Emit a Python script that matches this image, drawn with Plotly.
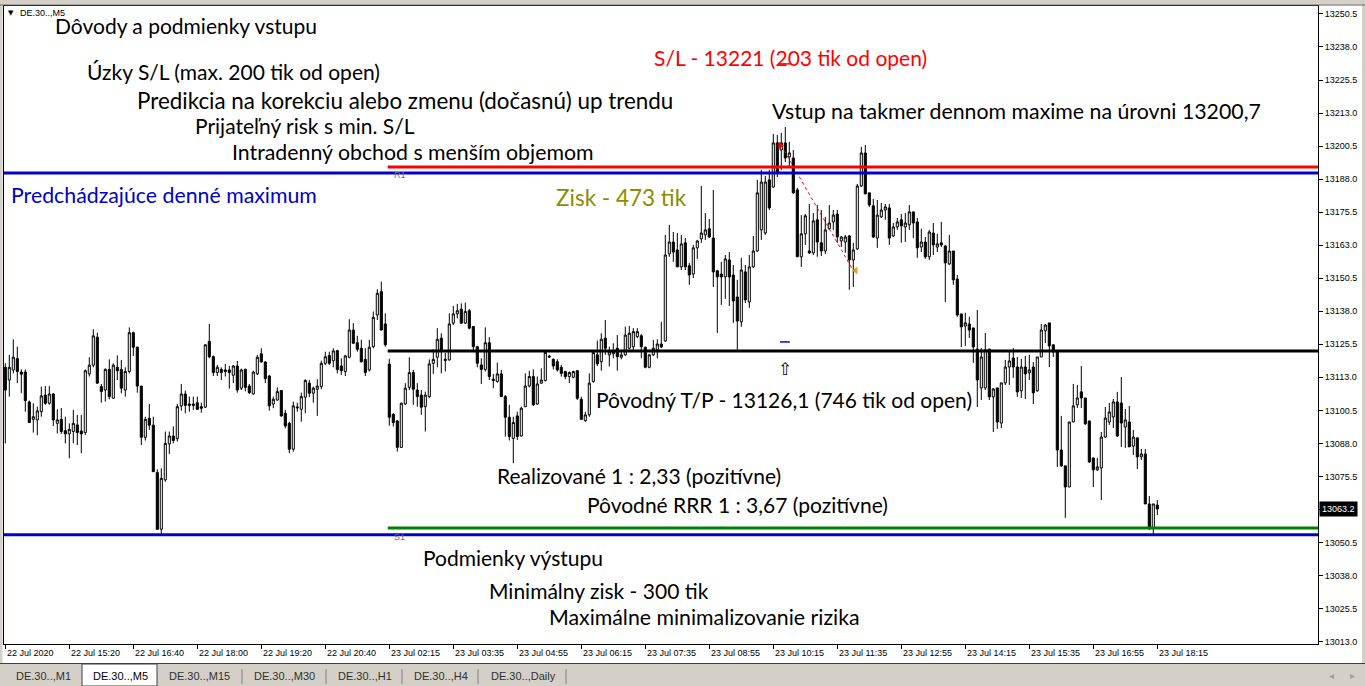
import plotly.graph_objects as go

# DE.30 (DAX) M5 bars, 22 Jul 2020 14:00 -> 23 Jul 2020 18:15 (overnight gap skipped)
opens = [
    13116.8, 13112.0, 13115.8, 13120.1, 13115.0, 13115.0, 13103.7, 13097.1, 13096.9, 13100.0, 13106.3, 13103.2,
    13106.7, 13095.6, 13097.1, 13092.8, 13091.6, 13092.5, 13095.0, 13092.7, 13092.1, 13114.3, 13117.6, 13128.2,
    13109.5, 13108.2, 13116.0, 13105.1, 13116.8, 13116.0, 13108.2, 13115.2, 13129.9, 13124.4, 13109.7, 13090.3,
    13097.5, 13094.9, 13077.0, 13055.5, 13074.2, 13087.8, 13090.8, 13089.8, 13102.2, 13106.7, 13102.3, 13102.9,
    13103.4, 13101.9, 13101.7, 13126.6, 13120.8, 13114.8, 13116.0, 13115.8, 13115.8, 13113.8, 13117.3, 13108.9,
    13116.0, 13109.7, 13106.7, 13114.3, 13121.9, 13118.8, 13113.5, 13102.9, 13104.4, 13108.0, 13099.4, 13095.6,
    13085.8, 13101.4, 13100.9, 13105.5, 13110.8, 13107.0, 13108.5, 13109.5, 13118.3, 13121.3, 13119.3, 13123.1,
    13117.3, 13115.2, 13120.6, 13130.9, 13126.1, 13124.0, 13119.8, 13115.8, 13124.6, 13136.6, 13145.4, 13133.2,
    13118.0, 13099.0, 13096.5, 13086.5, 13102.9, 13109.2, 13114.8, 13108.2, 13106.3, 13101.9, 13105.7, 13118.3,
    13120.6, 13127.8, 13119.3, 13119.6, 13133.5, 13137.0, 13138.8, 13133.5, 13138.2, 13132.2, 13124.6, 13117.7,
    13116.0, 13126.1, 13112.3, 13111.4, 13114.3, 13105.7, 13097.9, 13089.9, 13098.4, 13090.8, 13101.9, 13109.7,
    13113.3, 13102.9, 13110.8, 13111.8, 13120.6, 13119.8, 13118.9, 13116.8, 13115.2, 13113.3, 13113.0, 13115.5,
    13104.7, 13096.6, 13098.8, 13111.4, 13121.5, 13118.9, 13127.8, 13121.5, 13121.9, 13124.0, 13120.6, 13121.5,
    13124.0, 13124.6, 13128.4, 13128.7, 13124.4, 13116.8, 13121.5, 13123.4, 13125.6, 13126.8, 13159.7, 13164.2,
    13161.2, 13154.8, 13163.9, 13155.2, 13152.1, 13162.0, 13165.4, 13166.9, 13169.2, 13165.7, 13153.3, 13152.1,
    13151.0, 13157.4, 13151.7, 13143.4, 13134.0, 13152.9, 13141.5, 13154.8, 13160.8, 13168.8, 13167.6, 13187.7,
    13185.0, 13201.7, 13199.0, 13201.7, 13196.4, 13196.0, 13183.9, 13158.6, 13167.3, 13160.8, 13160.1, 13172.6,
    13163.9, 13160.8, 13169.2, 13171.8, 13174.8, 13164.6, 13164.2, 13166.5, 13157.4, 13161.6, 13185.4, 13197.9,
    13182.8, 13177.9, 13165.7, 13173.7, 13176.3, 13177.1, 13166.5, 13169.9, 13172.6, 13169.9, 13170.7, 13175.6,
    13171.8, 13162.3, 13164.2, 13158.6, 13167.6, 13162.3, 13163.9, 13162.7, 13155.9, 13160.8, 13150.2, 13137.0,
    13132.4, 13133.2, 13131.7, 13123.7, 13109.0, 13109.0, 13123.7, 13105.6, 13109.0, 13095.7, 13110.9, 13116.9,
    13120.3, 13116.9, 13107.9, 13116.9, 13114.7, 13116.9, 13107.9, 13120.7, 13130.6, 13133.6, 13125.3, 13123.0,
    13085.5, 13079.5, 13071.5, 13096.1, 13102.6, 13107.5, 13105.2, 13096.5, 13082.5, 13078.0, 13078.7, 13090.4,
    13096.1, 13098.0, 13103.7, 13103.3, 13094.2, 13096.1, 13087.0, 13090.1, 13082.9, 13084.0, 13065.1, 13056.0,
    13064.7,
]
highs = [
    13118.3, 13121.5, 13127.4, 13124.6, 13116.0, 13116.0, 13104.2, 13103.2, 13101.9, 13109.5, 13109.7, 13109.7,
    13107.0, 13100.9, 13101.4, 13098.1, 13095.6, 13100.7, 13098.8, 13098.8, 13116.0, 13120.6, 13131.2, 13129.9,
    13110.5, 13116.4, 13119.8, 13118.3, 13121.3, 13119.6, 13116.8, 13131.9, 13130.3, 13124.6, 13109.7, 13098.1,
    13102.9, 13098.1, 13078.2, 13078.6, 13092.5, 13092.5, 13094.4, 13102.9, 13110.5, 13108.0, 13105.7, 13105.7,
    13105.7, 13103.4, 13125.6, 13133.2, 13121.3, 13117.7, 13116.8, 13118.1, 13117.3, 13117.7, 13119.2, 13116.3,
    13116.3, 13110.5, 13115.5, 13121.5, 13124.0, 13119.1, 13113.9, 13105.7, 13109.2, 13108.2, 13100.7, 13096.2,
    13103.8, 13103.4, 13107.2, 13112.3, 13112.0, 13109.5, 13112.3, 13119.3, 13122.7, 13122.7, 13124.0, 13123.4,
    13120.2, 13121.5, 13135.0, 13133.5, 13128.7, 13127.2, 13124.0, 13127.2, 13137.9, 13146.3, 13149.2, 13137.2,
    13120.0, 13099.4, 13096.9, 13103.4, 13110.8, 13120.6, 13115.8, 13110.8, 13108.2, 13107.6, 13119.8, 13123.6,
    13131.6, 13129.7, 13122.3, 13137.2, 13140.0, 13140.8, 13141.0, 13141.3, 13138.8, 13132.4, 13124.9, 13120.2,
    13131.9, 13128.2, 13114.3, 13118.6, 13115.8, 13106.3, 13102.6, 13098.1, 13100.0, 13101.9, 13114.5, 13115.5,
    13116.0, 13113.3, 13116.4, 13123.1, 13121.5, 13120.2, 13119.8, 13117.7, 13115.5, 13115.2, 13115.5, 13115.8,
    13105.7, 13100.0, 13114.5, 13123.4, 13126.9, 13129.7, 13134.7, 13124.6, 13125.9, 13129.0, 13123.4, 13132.2,
    13132.4, 13131.6, 13131.6, 13129.4, 13124.6, 13121.9, 13127.2, 13127.4, 13134.0, 13166.9, 13170.7, 13168.0,
    13167.6, 13166.9, 13165.7, 13156.3, 13163.1, 13165.0, 13185.4, 13175.2, 13172.9, 13183.9, 13153.6, 13156.7,
    13159.3, 13160.4, 13155.5, 13149.9, 13158.2, 13155.5, 13159.3, 13166.5, 13187.7, 13191.5, 13189.2, 13191.5,
    13205.1, 13204.7, 13205.5, 13207.7, 13202.1, 13199.0, 13184.7, 13174.4, 13174.8, 13178.6, 13175.2, 13178.2,
    13176.3, 13173.7, 13178.2, 13176.3, 13176.3, 13166.5, 13166.9, 13166.9, 13163.9, 13186.2, 13200.2, 13200.9,
    13182.8, 13180.5, 13180.1, 13179.0, 13178.6, 13178.6, 13171.4, 13173.3, 13174.8, 13175.2, 13178.2, 13175.6,
    13173.3, 13169.2, 13166.1, 13168.8, 13171.4, 13167.3, 13171.8, 13163.1, 13166.9, 13160.8, 13151.7, 13137.0,
    13137.4, 13135.9, 13131.7, 13138.5, 13124.1, 13129.8, 13123.7, 13109.0, 13109.0, 13110.9, 13119.6, 13122.6,
    13124.1, 13120.7, 13120.0, 13121.1, 13121.5, 13118.8, 13120.7, 13133.2, 13133.2, 13133.6, 13125.3, 13123.0,
    13098.4, 13079.5, 13096.1, 13110.5, 13110.1, 13117.3, 13105.2, 13096.5, 13082.5, 13082.5, 13092.3, 13101.8,
    13103.3, 13104.8, 13107.5, 13113.1, 13101.0, 13102.2, 13093.1, 13090.1, 13085.9, 13085.9, 13068.1, 13065.1,
    13066.6,
]
lows = [
    13088.0, 13105.7, 13114.5, 13110.8, 13107.0, 13100.0, 13095.9, 13092.1, 13091.1, 13098.1, 13102.6, 13102.6,
    13094.6, 13091.8, 13091.6, 13088.0, 13082.4, 13088.0, 13087.4, 13084.3, 13091.2, 13113.3, 13116.8, 13110.5,
    13103.4, 13103.8, 13104.7, 13104.9, 13112.0, 13107.0, 13105.7, 13114.5, 13121.1, 13107.2, 13087.4, 13089.1,
    13093.1, 13077.3, 13055.3, 13053.4, 13073.5, 13084.0, 13088.0, 13088.7, 13100.4, 13099.4, 13100.0, 13100.7,
    13100.7, 13099.6, 13101.4, 13120.2, 13113.5, 13113.5, 13112.0, 13113.3, 13108.7, 13110.8, 13107.2, 13108.2,
    13107.7, 13106.7, 13106.5, 13113.9, 13118.6, 13110.8, 13100.4, 13101.3, 13104.2, 13098.1, 13093.7, 13084.3,
    13084.9, 13100.0, 13096.2, 13099.4, 13105.5, 13103.4, 13098.4, 13108.5, 13117.7, 13117.7, 13116.8, 13114.5,
    13113.9, 13113.5, 13120.2, 13125.6, 13122.7, 13118.6, 13113.5, 13115.2, 13124.0, 13134.7, 13130.7, 13124.6,
    13094.7, 13094.4, 13084.9, 13086.3, 13102.6, 13108.2, 13102.6, 13101.9, 13098.8, 13092.5, 13105.1, 13114.3,
    13116.8, 13114.5, 13115.2, 13119.3, 13132.8, 13135.3, 13133.2, 13133.2, 13131.2, 13123.4, 13116.8, 13110.5,
    13115.2, 13112.0, 13108.9, 13111.0, 13105.5, 13090.6, 13089.1, 13080.5, 13089.3, 13090.6, 13101.7, 13109.2,
    13102.2, 13102.6, 13110.5, 13111.4, 13120.5, 13116.0, 13115.2, 13113.3, 13112.3, 13110.8, 13112.6, 13104.4,
    13096.9, 13096.2, 13098.1, 13111.0, 13117.3, 13115.5, 13121.5, 13117.1, 13120.2, 13115.5, 13119.8, 13121.1,
    13123.4, 13122.7, 13127.8, 13120.2, 13116.4, 13116.4, 13121.1, 13120.2, 13124.1, 13126.4, 13158.6, 13156.7,
    13154.8, 13153.6, 13153.6, 13148.0, 13150.6, 13157.8, 13163.9, 13165.0, 13165.7, 13147.2, 13129.8, 13140.4,
    13142.7, 13140.0, 13133.6, 13123.4, 13132.1, 13141.1, 13139.3, 13154.4, 13160.4, 13165.0, 13166.9, 13176.3,
    13184.7, 13188.8, 13191.5, 13194.5, 13192.6, 13182.4, 13158.6, 13154.8, 13163.1, 13159.7, 13159.3, 13158.6,
    13158.9, 13159.7, 13168.8, 13168.8, 13163.9, 13162.3, 13160.1, 13146.1, 13147.2, 13161.2, 13185.0, 13182.4,
    13177.5, 13165.7, 13162.0, 13173.3, 13172.6, 13163.1, 13166.1, 13168.8, 13163.9, 13164.2, 13168.8, 13165.7,
    13158.2, 13160.4, 13157.8, 13157.4, 13159.3, 13160.4, 13162.3, 13141.5, 13155.5, 13148.0, 13135.9, 13124.5,
    13124.9, 13127.9, 13118.4, 13101.8, 13104.4, 13108.2, 13104.4, 13092.3, 13093.5, 13093.8, 13110.1, 13110.1,
    13112.8, 13105.6, 13105.2, 13104.8, 13112.0, 13102.9, 13107.5, 13120.7, 13126.0, 13116.9, 13120.7, 13079.1,
    13079.1, 13059.8, 13071.5, 13096.1, 13101.4, 13101.4, 13095.0, 13080.6, 13071.5, 13077.6, 13066.6, 13090.1,
    13095.0, 13093.8, 13090.4, 13086.7, 13086.3, 13086.7, 13083.6, 13078.3, 13081.7, 13065.1, 13055.2, 13053.4,
    13060.9,
]
closes = [
    13108.2, 13116.8, 13120.6, 13115.2, 13114.2, 13104.2, 13095.9, 13098.1, 13100.3, 13106.0, 13103.2, 13106.7,
    13096.9, 13096.9, 13092.5, 13091.6, 13093.3, 13095.6, 13092.1, 13091.6, 13115.5, 13117.6, 13128.7, 13110.8,
    13107.6, 13116.0, 13105.7, 13117.6, 13115.5, 13108.9, 13115.2, 13129.9, 13124.4, 13109.7, 13090.3, 13097.1,
    13094.9, 13077.3, 13055.5, 13074.8, 13088.0, 13090.8, 13089.1, 13101.9, 13106.7, 13102.4, 13102.9, 13102.4,
    13100.9, 13101.3, 13125.3, 13120.8, 13114.8, 13116.8, 13114.8, 13115.2, 13114.8, 13117.3, 13108.2, 13115.8,
    13109.2, 13107.2, 13115.0, 13120.6, 13118.8, 13112.5, 13102.2, 13104.7, 13107.6, 13098.4, 13094.6, 13085.8,
    13102.2, 13101.7, 13105.7, 13111.8, 13107.0, 13108.9, 13109.7, 13118.3, 13120.8, 13118.3, 13123.0, 13116.0,
    13115.5, 13121.1, 13130.9, 13125.9, 13123.6, 13118.9, 13114.8, 13124.4, 13135.7, 13144.8, 13130.9, 13125.3,
    13097.9, 13095.9, 13086.5, 13103.2, 13108.9, 13114.8, 13108.5, 13105.7, 13101.7, 13106.3, 13118.1, 13119.8,
    13127.4, 13123.4, 13119.8, 13133.2, 13137.0, 13138.2, 13133.5, 13137.9, 13131.6, 13124.6, 13118.3, 13116.0,
    13126.1, 13113.3, 13111.8, 13114.3, 13105.7, 13097.9, 13090.6, 13095.9, 13090.6, 13101.3, 13109.7, 13113.3,
    13102.6, 13110.5, 13112.0, 13122.4, 13121.0, 13117.3, 13115.8, 13114.5, 13113.3, 13114.8, 13115.2, 13105.1,
    13097.1, 13098.8, 13110.8, 13122.4, 13118.1, 13127.4, 13124.0, 13122.7, 13122.7, 13120.8, 13121.5, 13129.0,
    13129.7, 13130.3, 13130.3, 13124.6, 13116.8, 13121.5, 13124.0, 13125.6, 13124.5, 13159.3, 13164.2, 13160.4,
    13154.8, 13163.5, 13154.8, 13151.7, 13162.0, 13164.6, 13167.6, 13168.8, 13166.1, 13152.9, 13151.0, 13151.0,
    13157.8, 13151.0, 13141.9, 13134.3, 13153.6, 13142.3, 13154.8, 13160.8, 13182.8, 13186.9, 13186.9, 13177.1,
    13201.7, 13190.3, 13201.7, 13196.0, 13197.9, 13182.8, 13158.6, 13167.3, 13174.1, 13160.1, 13172.2, 13164.2,
    13160.8, 13168.8, 13171.4, 13174.4, 13166.1, 13166.1, 13166.1, 13157.4, 13161.2, 13185.4, 13197.9, 13182.4,
    13178.2, 13166.1, 13174.4, 13176.3, 13177.5, 13165.7, 13169.9, 13171.8, 13170.3, 13171.4, 13175.6, 13171.4,
    13162.0, 13164.2, 13158.6, 13168.0, 13163.1, 13163.5, 13163.1, 13156.3, 13160.8, 13149.9, 13136.6, 13132.1,
    13133.6, 13130.9, 13124.5, 13112.0, 13120.7, 13123.4, 13105.6, 13108.6, 13096.1, 13110.9, 13116.9, 13119.2,
    13116.9, 13107.5, 13116.9, 13114.3, 13115.8, 13107.1, 13120.7, 13130.9, 13132.8, 13124.9, 13122.6, 13085.5,
    13079.5, 13071.5, 13096.1, 13102.2, 13105.2, 13105.2, 13095.4, 13081.0, 13078.0, 13079.1, 13090.4, 13097.6,
    13099.9, 13103.7, 13090.8, 13095.7, 13096.9, 13086.7, 13090.4, 13082.9, 13084.0, 13065.1, 13056.0, 13065.1,
    13063.2,
]
bars = list(range(len(closes)))

time_tick_bars = [0, 16, 32, 48, 64, 80, 96, 112, 128, 144, 160, 176, 192, 208, 224, 240, 256, 272, 288]
time_tick_text = ["22 Jul 2020", "22 Jul 15:20", "22 Jul 16:40", "22 Jul 18:00", "22 Jul 19:20",
                  "22 Jul 20:40", "23 Jul 02:15", "23 Jul 03:35", "23 Jul 04:55", "23 Jul 06:15",
                  "23 Jul 07:35", "23 Jul 08:55", "23 Jul 10:15", "23 Jul 11:35", "23 Jul 12:55",
                  "23 Jul 14:15", "23 Jul 15:35", "23 Jul 16:55", "23 Jul 18:15"]
price_ticks = [13013.0, 13025.5, 13038.0, 13050.5, 13063.0, 13075.5, 13088.0, 13100.5, 13113.0, 13125.5,
               13138.0, 13150.5, 13163.0, 13175.5, 13188.0, 13200.5, 13213.0, 13225.5, 13238.0, 13250.5]

# levels / trade
prev_day_high = 13190.3
stop_loss_line = 13192.6
take_profit_line = 13123.0
exit_zone_line = 13056.0
support_s1 = 13053.4
day2_start = 95.6
entry_bar, entry_price = 194, 13200.7
exit_bar, exit_price = 212, 13153.4
sl_mark_price, tp_mark_price, arrow_price = 13231.6, 13126.4, 13116.2
last_price = 13063.2

tabs = ["DE.30..,M1", "DE.30..,M5", "DE.30..,M15", "DE.30..,M30", "DE.30..,H1", "DE.30..,H4", "DE.30..,Daily"]

W, H = 1365, 686
PL, PR, PT, PB = 4, 1318, 6, 644
X0 = -0.325
X1 = X0 + (PR - PL) / 4.0


def px(x):  # pixel -> paper
    return (x - PL) / (PR - PL)


def py(y):
    return (PB - y) / (PB - PT)


fig = go.Figure()
fig.add_trace(go.Candlestick(
    x=bars, open=opens, high=highs, low=lows, close=closes,
    increasing=dict(line=dict(color="black", width=1), fillcolor="white"),
    decreasing=dict(line=dict(color="black", width=1), fillcolor="black"),
    whiskerwidth=0, hoverinfo="skip", showlegend=False,
))

# trade line open -> close
fig.add_trace(go.Scatter(x=[entry_bar, exit_bar], y=[entry_price, exit_price], mode="lines",
                         line=dict(color="red", width=1, dash="dot"), hoverinfo="skip", showlegend=False))
fig.add_trace(go.Scatter(x=[entry_bar - 0.3], y=[entry_price], mode="markers",
                         marker=dict(symbol="triangle-right", size=7, color="red"),
                         hoverinfo="skip", showlegend=False))
fig.add_trace(go.Scatter(x=[exit_bar + 0.6], y=[exit_price], mode="markers",
                         marker=dict(symbol="triangle-left", size=7, color="#e0a020"),
                         hoverinfo="skip", showlegend=False))
fig.add_trace(go.Scatter(x=[194.9, 194.9], y=[sl_mark_price, tp_mark_price], mode="markers",
                         marker=dict(symbol="line-ew", size=7, line=dict(color=["red", "blue"], width=1.5)),
                         hoverinfo="skip", showlegend=False))

shapes = []
for y0, x_from, col in [(prev_day_high, X0, "#0000cc"), (stop_loss_line, day2_start, "#ff0000"),
                        (take_profit_line, day2_start, "black"), (exit_zone_line, day2_start, "#008000"),
                        (support_s1, X0, "#0000cc")]:
    shapes.append(dict(type="line", xref="x", yref="y", x0=x_from, x1=X1, y0=y0, y1=y0,
                       line=dict(color=col, width=3)))

# window chrome (gray frame, tab strip)
gray = "#d4d0c8"
shapes += [
    dict(type="rect", xref="paper", yref="paper", x0=px(0), x1=px(W), y0=py(0), y1=py(4.5),
         fillcolor=gray, line_width=0, layer="below"),
    dict(type="rect", xref="paper", yref="paper", x0=px(0), x1=px(2.5), y0=py(0), y1=py(H),
         fillcolor=gray, line_width=0),
    dict(type="rect", xref="paper", yref="paper", x0=px(1362), x1=px(W), y0=py(0), y1=py(H),
         fillcolor=gray, line_width=0),
    dict(type="line", xref="paper", yref="paper", x0=px(0), x1=px(W), y0=py(5), y1=py(5),
         line=dict(color="#606060", width=1)),
    dict(type="rect", xref="paper", yref="paper", x0=px(0), x1=px(W), y0=py(664), y1=py(H),
         fillcolor=gray, line_width=0),
    dict(type="line", xref="paper", yref="paper", x0=px(0), x1=px(W), y0=py(663.5), y1=py(663.5),
         line=dict(color="#404040", width=1)),
    dict(type="rect", xref="paper", yref="paper", x0=px(82), x1=px(157), y0=py(664), y1=py(H),
         fillcolor="white", line=dict(color="#404040", width=1)),
]
for sx in [242, 326, 402, 478, 566]:
    shapes.append(dict(type="line", xref="paper", yref="paper", x0=px(sx), x1=px(sx), y0=py(669), y1=py(684),
                       line=dict(color="#808080", width=1)))

ann = []
big = dict(family="Lato, 'Noto Sans', sans-serif", size=21, color="black")


def note(text, bar, price, color="black", size=21):
    ann.append(dict(text=text, x=bar, y=price, xref="x", yref="y", xanchor="left", yanchor="middle",
                    xshift=-3, showarrow=False, font=dict(big, color=color, size=size)))


note("Dôvody a podmienky vstupu", 12.7, 13246.3)
note("Úzky S/L (max. 200 tik od open)", 20.7, 13228.9)
note("Predikcia na korekciu alebo zmenu (dočasnú) up trendu", 33.2, 13217.6, size=22.4)
note("Prijateľný risk s min. S/L", 47.7, 13208.1)
note("Intradenný obchod s menším objemom", 56.9, 13198.3, size=21.3)
note("Predchádzajúce denné maximum", 1.7, 13182.0, "#0000cc", size=21.3)
note("Zisk - 473 tik", 137.9, 13180.9, "#8c8c00", size=22.5)
note("S/L - 13221 (203 tik od open)", 162.4, 13233.9, "#ff0000")
note("Vstup na takmer dennom maxime na úrovni 13200,7", 191.9, 13213.8, size=21.3)
note("Pôvodný T/P - 13126,1 (746 tik od open)", 147.9, 13104.8)
note("Realizované 1 : 2,33 (pozitívne)", 123.2, 13075.7)
note("Pôvodné RRR 1 : 3,67 (pozitívne)", 145.7, 13064.7)
note("Podmienky výstupu", 104.7, 13045.0)
note("Minimálny zisk - 300 tik", 121.2, 13032.2)
note("Maximálne minimalizovanie rizika", 136.2, 13022.3, size=21.3)

small = dict(family="Liberation Sans, Arial, sans-serif", size=9, color="#6a6a9a")
ann.append(dict(text="R1", x=96.6, y=13189.6, xref="x", yref="y", xanchor="left", yanchor="middle",
                showarrow=False, font=small))
ann.append(dict(text="S1", x=96.6, y=13052.6, xref="x", yref="y", xanchor="left", yanchor="middle",
                showarrow=False, font=small))
ann.append(dict(text="⇧", x=194.9, y=arrow_price, xref="x", yref="y", xanchor="center", yanchor="middle",
                showarrow=False, font=dict(family="DejaVu Sans", size=17, color="black")))

# time axis labels (left aligned like MT4)
for b, t in zip(time_tick_bars, time_tick_text):
    ann.append(dict(text=t, x=b, y=py(652.5), xref="x", yref="paper", xanchor="left", yanchor="middle",
                    showarrow=False, font=dict(family="Liberation Sans, Arial", size=9, color="black")))

# last price tag (covers the 13063.0 tick label, as in MT4)
ann.append(dict(text=f"{last_price:.1f}", x=1, xshift=1, y=last_price, xref="paper", yref="y",
                xanchor="left", yanchor="middle", showarrow=False, bgcolor="black", borderpad=2,
                font=dict(family="Liberation Sans, Arial", size=9, color="white")))
tick_labels = ["" if abs(v - last_price) < 1 else f"{v:.1f}" for v in price_ticks]

# symbol caption
ann.append(dict(text="▼", x=px(6), y=py(13), xref="paper", yref="paper", xanchor="left", yanchor="middle",
                showarrow=False, font=dict(family="DejaVu Sans", size=7, color="black")))
ann.append(dict(text="DE.30..,M5", x=px(18), y=py(13), xref="paper", yref="paper", xanchor="left",
                yanchor="middle", showarrow=False, font=dict(family="Liberation Sans, Arial", size=9, color="black")))

# tabs
tab_x = [14, 91, 167, 252, 336, 412, 489]
for tx, name in zip(tab_x, tabs):
    ann.append(dict(text=name, x=px(tx), y=py(676), xref="paper", yref="paper", xanchor="left", yanchor="middle",
                    showarrow=False,
                    font=dict(family="Liberation Sans, Arial", size=11,
                              color="black" if name.endswith("M5") else "#303030")))
for tx, arrow in [(1331, "◂"), (1352, "▸")]:
    ann.append(dict(text=arrow, x=px(tx), y=py(675), xref="paper", yref="paper", xanchor="center",
                    yanchor="middle", showarrow=False, font=dict(family="DejaVu Sans", size=10, color="#a0a0a0")))

fig.update_layout(
    width=W, height=H,
    margin=dict(l=PL, r=W - PR, t=PT, b=H - PB, autoexpand=False),
    paper_bgcolor="white", plot_bgcolor="white",
    boxgap=0.25,
    showlegend=False,
    shapes=shapes, annotations=ann,
    xaxis=dict(range=[X0, X1], rangeslider=dict(visible=False), showgrid=False, zeroline=False,
               tickvals=time_tick_bars, ticktext=[""] * len(time_tick_bars), ticks="outside", ticklen=4,
               tickcolor="black", showline=True, linecolor="black", linewidth=1, mirror=True),
    yaxis=dict(range=[13012.1, 13253.5], side="right", showgrid=False, zeroline=False, automargin=False,
               tickvals=price_ticks, ticktext=tick_labels, ticks="outside", ticklen=4,
               tickcolor="black", tickfont=dict(family="Liberation Sans, Arial", size=9, color="black"),
               showline=True, linecolor="black", linewidth=1, mirror=True),
)

fig.write_html("out.html", config={"displayModeBar": False},
               post_script="document.body.style.margin='0';document.body.style.overflow='hidden';")
